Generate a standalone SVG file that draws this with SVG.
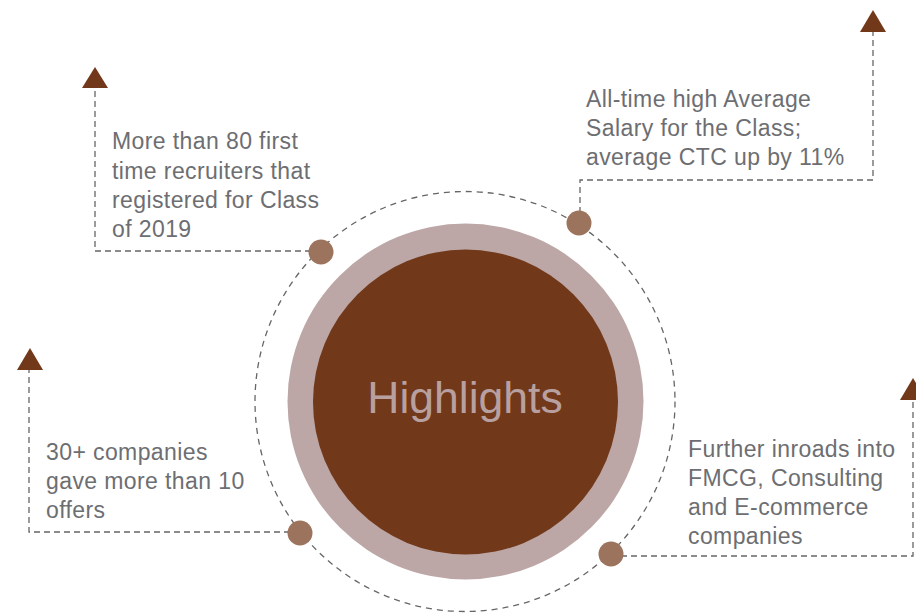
<svg xmlns="http://www.w3.org/2000/svg" width="916" height="614" viewBox="0 0 916 614">
<style>
.conn{fill:none;stroke:#666666;stroke-width:1.3;stroke-dasharray:6 4}
.orbit{fill:none;stroke:#666666;stroke-width:1.3;stroke-dasharray:6 5}
.dot{fill:#9c735c}
.arrow{fill:#71381a}
.lbl{font-family:"Liberation Sans",Arial,sans-serif;font-size:23px;letter-spacing:0.4px;fill:#6d6e72}
</style>
<rect width="916" height="614" fill="#ffffff"/>
<g id="connectors">
<circle class="orbit" cx="465" cy="401.5" r="210"/>
<polyline class="conn" points="321,251 95,251 95,88"/>
<polyline class="conn" points="580,223 580,180 873,180 873,32"/>
<polyline class="conn" points="300,532 29,532 29,370"/>
<polyline class="conn" points="611,556 913,556 913,400"/>
<polygon class="arrow" points="95,67 108,88 82,88"/>
<polygon class="arrow" points="873,10 886,32 860,32"/>
<polygon class="arrow" points="30,348 43,370 17,370"/>
<polygon class="arrow" points="913,378 926,400 900,400"/>
</g>
<g id="center">
<circle cx="465.5" cy="401.5" r="178" fill="#bca7a6"/>
<circle cx="465.5" cy="402" r="152.5" fill="#71381a"/>
<text x="465" y="413" text-anchor="middle" font-family="Liberation Sans,Arial,sans-serif" font-size="44.5" fill="#b8a0a0">Highlights</text>
</g>
<g id="node-tl">
<circle class="dot" cx="321" cy="252" r="12.5"/>
<text class="lbl" x="112" y="149">More than 80 first</text>
<text class="lbl" x="112" y="179">time recruiters that</text>
<text class="lbl" x="112" y="208">registered for Class</text>
<text class="lbl" x="112" y="237">of 2019</text>
</g>
<g id="node-tr">
<circle class="dot" cx="579" cy="223" r="12.5"/>
<text class="lbl" x="586" y="107">All-time high Average</text>
<text class="lbl" x="586" y="136">Salary for the Class;</text>
<text class="lbl" x="586" y="165">average CTC up by 11%</text>
</g>
<g id="node-bl">
<circle class="dot" cx="300" cy="533" r="12.5"/>
<text class="lbl" x="46" y="460">30+ companies</text>
<text class="lbl" x="46" y="489">gave more than 10</text>
<text class="lbl" x="46" y="518">offers</text>
</g>
<g id="node-br">
<circle class="dot" cx="611" cy="554" r="12.5"/>
<text class="lbl" x="688" y="457">Further inroads into</text>
<text class="lbl" x="688" y="486">FMCG, Consulting</text>
<text class="lbl" x="688" y="515">and E-commerce</text>
<text class="lbl" x="688" y="544">companies</text>
</g>
</svg>
